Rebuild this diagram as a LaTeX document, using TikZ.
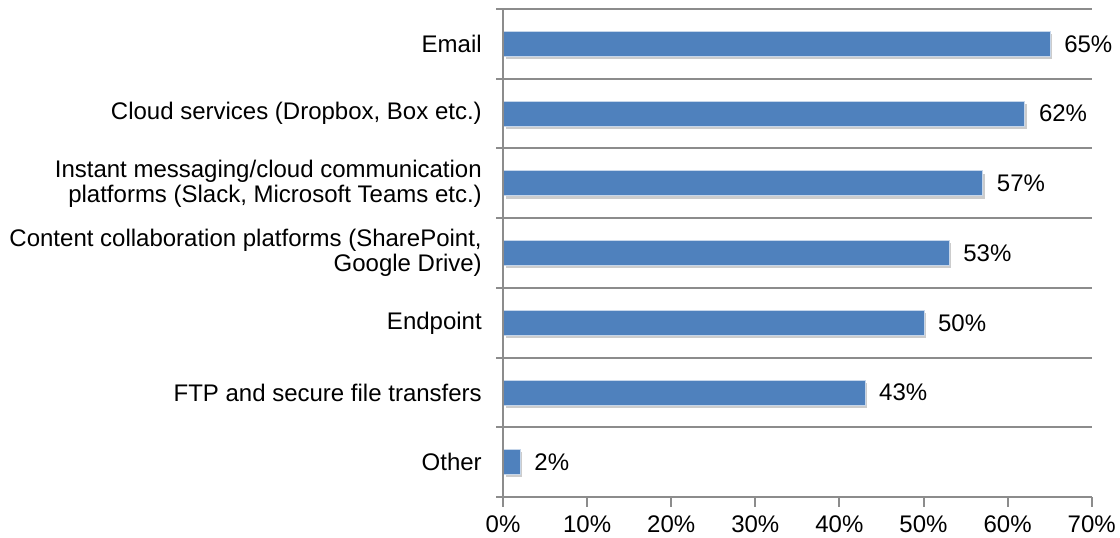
\documentclass[tikz,border=0pt]{standalone}
\usepackage{fontspec}
\setmainfont{Liberation Sans}
\usetikzlibrary{positioning,shadows}
\definecolor{BarBlue}{HTML}{4F81BD}
\definecolor{BarEdge}{HTML}{C6D6EA}
\definecolor{GridGray}{HTML}{8C8C8C}
\newcommand{\chartfont}{\fontsize{18}{18.8}\selectfont}
\tikzset{
  bar/.style={draw=BarEdge,line width=0.75pt,fill=BarBlue,minimum height=18.75pt,
    inner sep=0pt,anchor=west,
    drop shadow={shadow xshift=1.5pt,shadow yshift=-2pt,fill=black,opacity=.2}},
  gridline/.style={draw=GridGray,line width=1.5pt},
  catlabel/.style={anchor=east,align=right,inner sep=0pt,font=\chartfont},
  vallabel/.style={inner sep=0pt,font=\chartfont},
  ticklabel/.style={anchor=north,inner sep=0pt,font=\chartfont}
}

\begin{document}
\begin{tikzpicture}[x=0.75pt,y=-0.75pt]
  \useasboundingbox (0,0) rectangle (1120,538);
  % bars, value labels and category labels
  \foreach \v/\txt [count=\i from 0] in {65/Email,62/{Cloud services (Dropbox, Box etc.)},
      57/{Instant messaging/cloud communication\\platforms (Slack, Microsoft Teams etc.)},
      53/{Content collaboration platforms (SharePoint,\\Google Drive)},
      50/Endpoint,43/FTP and secure file transfers,2/Other}{
    \node[bar,minimum width={\v*6.3075pt}] (bar\i) at (503,{44+69.7*\i}) {};
    \node[vallabel,right=10pt of bar\i.east] (val\i) {\v\%};
    \node[catlabel] (cat\i) at (482,{44+69.7*\i}) {\txt};
  }
  % gridlines and axes
  \foreach \k in {0,...,7}
    \draw[gridline] (496,{9+69.7*\k}) -- (1092,{9+69.7*\k});
  \draw[gridline] (503,9) -- (503,507);
  \foreach \j in {0,...,7}{
    \draw[gridline] ({503+84.1*\j},497) -- ++(0,10);
    \node[ticklabel] (tick\j) at ({503+84.1*\j},515) {\the\numexpr\j*10\relax\%};
  }
\end{tikzpicture}
\end{document}
